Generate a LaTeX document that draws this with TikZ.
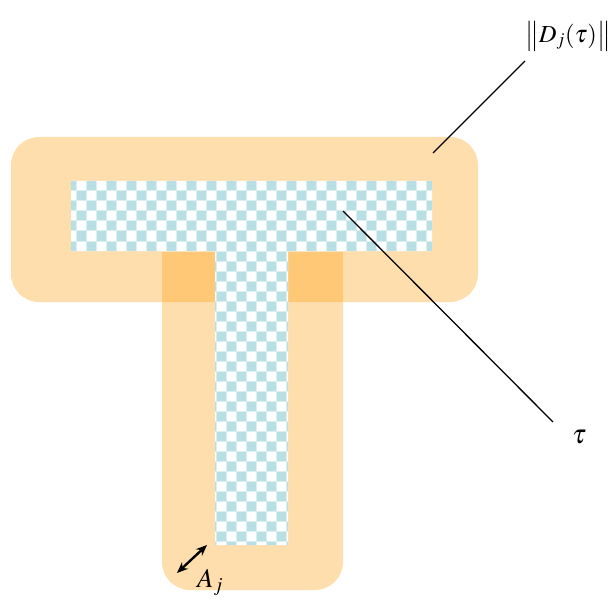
\documentclass[tikz,border=0pt]{standalone}
\usepackage{mathptmx}
\usetikzlibrary{positioning, arrows.meta}
\definecolor{bandorange}{RGB}{255,156,9}
\definecolor{checkblue}{RGB}{184,223,227}

\begin{document}
\begin{tikzpicture}[
    x=1pt, y=-1pt,
    >={Stealth[length=11pt, width=9pt]},
    band/.style={fill=bandorange, fill opacity=0.333},
    cell/.style={fill=checkblue, draw=checkblue!50, line width=1pt},
    leader/.style={line width=1.3pt, draw=black},
    lbl/.style={font=\fontsize{27}{32}\selectfont, inner sep=0pt}
  ]
    \useasboundingbox (0,0) rectangle (611,599);
    % offset band around the T
    \fill[band, rounded corners=28pt] (11,137) rectangle (478,302);
    \begin{scope}
      \clip (162,252) rectangle (343,600);
      \fill[band, rounded corners=28pt] (162,200) rectangle (343,590);
    \end{scope}
    % the T itself, checkered
    \begin{scope}
      \clip (71,181) rectangle (432,251) (215,251) rectangle (288,545);
      \fill[white] (60,170) rectangle (440,550);
      \foreach \r in {0,...,37} {
        \pgfmathsetmacro\rowoff{mod(\r,2)*10}
        \foreach \c in {0,2,...,36}
          \fill[cell] ({66+\rowoff+\c*10},{181+\r*10}) rectangle +(10,10);
      }
    \end{scope}
    % labels and leaders
    \coordinate (bandpt) at (433,153);
    \coordinate (normend) at (525,61);
    \node[lbl, font=\fontsize{24.5}{30}\selectfont, above right=10pt and 0pt of normend] (normlabel) {$\left\|D_j(\tau)\right\|$};
    \draw[leader] (bandpt) -- (normend);
    \coordinate (tpt) at (343,211);
    \coordinate (tend) at (553,422);
    \node[lbl, below right=8pt and 19pt of tend] (taulabel) {$\tau$};
    \draw[leader] (tpt) -- (tend);
    \coordinate (wa) at (177,573);
    \coordinate (wb) at (207,545);
    \draw[<->, line width=2.4pt] (wa) -- (wb);
    \node[lbl, below right=-4pt and 20pt of wa] (alabel) {$A_j$};
\end{tikzpicture}
\end{document}
